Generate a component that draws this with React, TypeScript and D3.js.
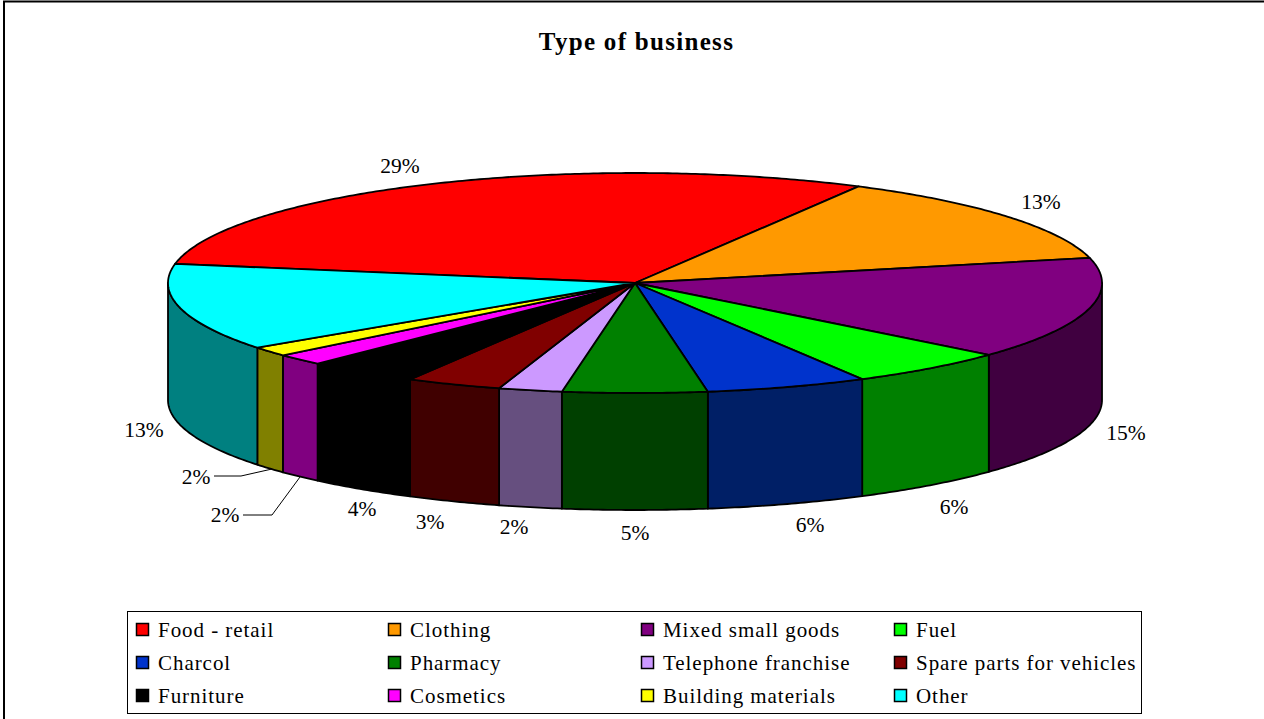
import React from "react";
import * as d3 from "d3";

const TITLE = "Type of business";
const categories = ["Food - retail","Clothing","Mixed small goods","Fuel","Charcol","Pharmacy","Telephone franchise","Spare parts for vehicles","Furniture","Cosmetics","Building materials","Other"];
const shares = [30.2,13.4,15,5.6,5.6,5,2.2,3.3,3.9,1.7,1.4,12.8];
const percentLabels = ["29%","13%","15%","6%","6%","5%","2%","3%","4%","2%","2%","13%"];
const topColors = ["#FF0000","#FF9900","#800080","#00FF00","#0033CC","#008000","#CC99FF","#800000","#000000","#FF00FF","#FFFF00","#00FFFF"];
const sideColors = ["#800000","#805000","#400040","#008000","#001F66","#004000","#664F7F","#400000","#000000","#800080","#808000","#008080"];

// layout
const W = 1264, H = 719;
const CX = 635, CY = 283, RX = 467, RY = 110, DEPTH = 117;
const labelX = [400,1041,1126,954,810,635,514,430,362,225,196,144];
const labelY = [166,202,433,507,525,533,527,522,509,515,477,430];
const leaders: Record<number, [number, number][]> = {
  9: [[243,515],[272,515],[300,477]],
  10: [[214,476],[241,476],[272,469]],
};
const SERIF = "'Liberation Serif','Times New Roman',serif";

const x = d3.scaleLinear().domain([-1,1]).range([CX-RX,CX+RX]);
const y = d3.scaleLinear().domain([-1,1]).range([CY+RY,CY-RY]);
const START = -80*Math.PI/180;
const arcs = d3.pie<number>().sort(null).startAngle(START).endAngle(START+2*Math.PI)(shares);
const pathLine = d3.line<[number,number]>();

function rim(a0:number,a1:number,dy=0):[number,number][]{
  const n=Math.max(2,Math.ceil(Math.abs(a1-a0)/0.01));
  return d3.range(n+1).map(i=>{const t=a0+(a1-a0)*i/n;return [x(Math.sin(t)),y(Math.cos(t))+dy] as [number,number];});
}

const legendCols=[136,388,641,894];
const legendRows=[630,663,696];

export default function App(){
  return (
    <svg width={W} height={H} viewBox={`0 0 ${W} ${H}`} style={{position:"fixed",left:0,top:0,background:"#fff",display:"block"}}>
      <rect x={4} y={1.5} width={W+4} height={H+4} fill="#fff" stroke="#000" strokeWidth={2}/>
      <text x={636.5} y={50} textAnchor="middle" fontFamily={SERIF} fontWeight="bold" fontSize={25} letterSpacing={1.3}>{TITLE}</text>
      <g stroke="#000" strokeWidth={1.8} strokeLinejoin="round">
        {arcs.map((a,i)=>{
          const lo=Math.max(a.startAngle,Math.PI/2), hi=Math.min(a.endAngle,3*Math.PI/2);
          if(hi<=lo) return null;
          const pts=[...rim(lo,hi),...rim(hi,lo,DEPTH)];
          return <path key={i} d={pathLine(pts)+"Z"} fill={sideColors[i]}/>;
        })}
        {arcs.map((a,i)=>{
          const pts:[number,number][]=[[x(0),y(0)],...rim(a.startAngle,a.endAngle)];
          return <path key={i} d={pathLine(pts)+"Z"} fill={topColors[i]}/>;
        })}
      </g>
      <g fill="none" stroke="#000" strokeWidth={1}>
        {Object.values(leaders).map((p,i)=><path key={i} d={pathLine(p)!}/>)}
      </g>
      <g fontFamily={SERIF} fontSize={21.5} textAnchor="middle" dominantBaseline="central" fill="#000">
        {percentLabels.map((l,i)=><text key={i} x={labelX[i]} y={labelY[i]}>{l}</text>)}
      </g>
      <rect x={127.5} y={611.5} width={1014} height={102} fill="#fff" stroke="#000" strokeWidth={1}/>
      <g fontFamily={SERIF} fontSize={21} fill="#000">
        {categories.map((c,i)=>{
          const col=legendCols[i%4], row=legendRows[Math.floor(i/4)];
          return <g key={i}>
            <rect x={col+0.5} y={row-6.5} width={12} height={12} fill={topColors[i]} stroke="#000" strokeWidth={1.5}/>
            <text x={col+22} y={row} dominantBaseline="central" letterSpacing={0.95}>{c}</text>
          </g>;
        })}
      </g>
    </svg>
  );
}
